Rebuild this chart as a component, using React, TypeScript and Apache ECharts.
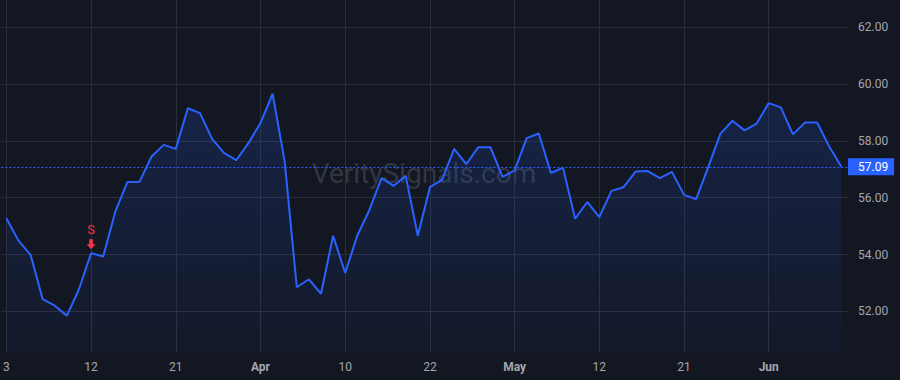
import React, { useEffect, useRef } from "react";
import * as echarts from "echarts";

const dates: string[] = [
  "2025-03-03", "2025-03-04", "2025-03-05", "2025-03-06", "2025-03-07",
  "2025-03-10", "2025-03-11", "2025-03-12", "2025-03-13", "2025-03-14",
  "2025-03-17", "2025-03-18", "2025-03-19", "2025-03-20", "2025-03-21",
  "2025-03-24", "2025-03-25", "2025-03-26", "2025-03-27", "2025-03-28",
  "2025-03-31", "2025-04-01", "2025-04-02", "2025-04-03", "2025-04-04",
  "2025-04-07", "2025-04-08", "2025-04-09", "2025-04-10", "2025-04-11",
  "2025-04-14", "2025-04-15", "2025-04-16", "2025-04-17", "2025-04-21",
  "2025-04-22", "2025-04-23", "2025-04-24", "2025-04-25", "2025-04-28",
  "2025-04-29", "2025-04-30", "2025-05-01", "2025-05-02", "2025-05-05",
  "2025-05-06", "2025-05-07", "2025-05-08", "2025-05-09", "2025-05-12",
  "2025-05-13", "2025-05-14", "2025-05-15", "2025-05-16", "2025-05-19",
  "2025-05-20", "2025-05-21", "2025-05-22", "2025-05-23", "2025-05-27",
  "2025-05-28", "2025-05-29", "2025-05-30", "2025-06-02", "2025-06-03",
  "2025-06-04", "2025-06-05", "2025-06-06", "2025-06-09", "2025-06-10",
];

const closes: number[] = [
  55.28, 54.49, 53.99, 52.43, 52.2, 51.85, 52.78, 54.05, 53.93, 55.51,
  56.55, 56.56, 57.45, 57.86, 57.72, 59.15, 58.98, 58.07, 57.57, 57.32,
  57.92, 58.63, 59.66, 57.27, 52.85, 53.13, 52.62, 54.66, 53.35, 54.67,
  55.57, 56.69, 56.42, 56.77, 54.66, 56.37, 56.63, 57.72, 57.18, 57.78,
  57.78, 56.73, 56.96, 58.1, 58.26, 56.87, 57.06, 55.26, 55.85, 55.32,
  56.24, 56.37, 56.92, 56.94, 56.69, 56.91, 56.1, 55.95, 57.08, 58.25,
  58.71, 58.37, 58.61, 59.33, 59.18, 58.23, 58.65, 58.65, 57.8, 57.09,
];

const xTickIndices: number[] = [0, 7, 14, 21, 28, 35, 42, 49, 56, 63];
const yTicks: number[] = [52, 54, 56, 58, 60, 62];
const monthNames: string[] = ["Jan", "Feb", "Mar", "Apr", "May", "Jun", "Jul", "Aug", "Sep", "Oct", "Nov", "Dec"];

const signalIndex = 7;
const signalLabel = "S";
const lastPrice = 57.09;
const watermark = "VeritySignals.com";

function tickLabel(v: number): string {
  const i = Math.round(v);
  const d = dates[i];
  if (!d) return "";
  const [, m, day] = d.split("-");
  if (i > 0 && dates[i - 1].split("-")[1] !== m) {
    return "{m|" + monthNames[parseInt(m, 10) - 1] + "}";
  }
  return String(parseInt(day, 10));
}

export default function App() {
  const ref = useRef<HTMLDivElement>(null);

  useEffect(() => {
    if (!ref.current) return;
    const chart = echarts.init(ref.current, null, { renderer: "svg" });
    const font = "Roboto, 'Noto Sans', sans-serif";
    const labelColor = "#a3a6af";
    const gridColor = "#2a2e39";
    const blue = "#2962ff";
    const red = "#f23645";

    chart.setOption({
      animation: false,
      backgroundColor: "#131722",
      textStyle: { fontFamily: font },
      grid: { left: 0, right: 52, top: 0, bottom: 28, containLabel: false },
      graphic: [
        {
          type: "text",
          x: 424,
          y: 173,
          silent: true,
          z: 0,
          style: {
            text: watermark,
            fontSize: 28,
            fontFamily: font,
            fill: "rgba(120,124,136,0.32)",
            align: "center",
            verticalAlign: "middle",
          },
        },
      ],
      xAxis: {
        type: "value",
        min: -0.413,
        max: 69.55,
        axisLine: { show: false },
        axisTick: { show: false, customValues: xTickIndices },
        splitLine: { show: true, lineStyle: { color: gridColor, width: 1 } },
        axisLabel: {
          customValues: xTickIndices,
          color: labelColor,
          fontSize: 12,
          margin: 9,
          fontFamily: font,
          formatter: tickLabel,
          rich: {
            m: { fontWeight: "bold", color: labelColor, fontSize: 12, fontFamily: font },
          },
        },
      },
      yAxis: {
        type: "value",
        position: "right",
        min: 50.57,
        max: 62.96,
        axisLine: { show: false },
        axisTick: { show: false, customValues: yTicks },
        splitLine: { show: true, lineStyle: { color: gridColor, width: 1 } },
        axisLabel: {
          customValues: yTicks,
          color: labelColor,
          fontSize: 12,
          margin: 10,
          fontFamily: font,
          formatter: (v: number) => v.toFixed(2),
        },
      },
      series: [
        {
          type: "line",
          data: closes.map((v, i) => [i, v]),
          showSymbol: false,
          symbol: "none",
          lineStyle: { color: blue, width: 2 },
          itemStyle: { color: blue },
          areaStyle: {
            color: new echarts.graphic.LinearGradient(0, 0, 0, 1, [
              { offset: 0, color: "rgba(41,98,255,0.24)" },
              { offset: 1, color: "rgba(41,98,255,0.05)" },
            ]),
          },
          z: 3,
          markLine: {
            silent: true,
            symbol: ["none", "none"],
            lineStyle: { color: blue, type: [2, 2], width: 1, opacity: 1 },
            label: {
              show: true,
              position: "end",
              distance: 0,
              formatter: () => lastPrice.toFixed(2),
              color: "#ffffff",
              backgroundColor: blue,
              fontSize: 12,
              lineHeight: 13,
              padding: [2, 6, 2, 10],
              fontFamily: font,
            },
            data: [{ yAxis: lastPrice }],
          },
          markPoint: {
            silent: true,
            symbol: "path://M3,0 L7,0 L7,5 L10,5 L5,10 L0,5 L3,5 Z",
            symbolSize: [9, 10],
            symbolOffset: [0, -9],
            itemStyle: { color: red },
            label: {
              show: true,
              position: "top",
              distance: 3,
              formatter: () => signalLabel,
              color: red,
              fontSize: 13,
              fontFamily: font,
            },
            data: [{ coord: [signalIndex, closes[signalIndex]] }],
          },
        },
      ],
    });

    return () => chart.dispose();
  }, []);

  return (
    <div
      ref={ref}
      style={{ position: "fixed", left: 0, top: 0, width: 900, height: 380, background: "#131722" }}
    />
  );
}
